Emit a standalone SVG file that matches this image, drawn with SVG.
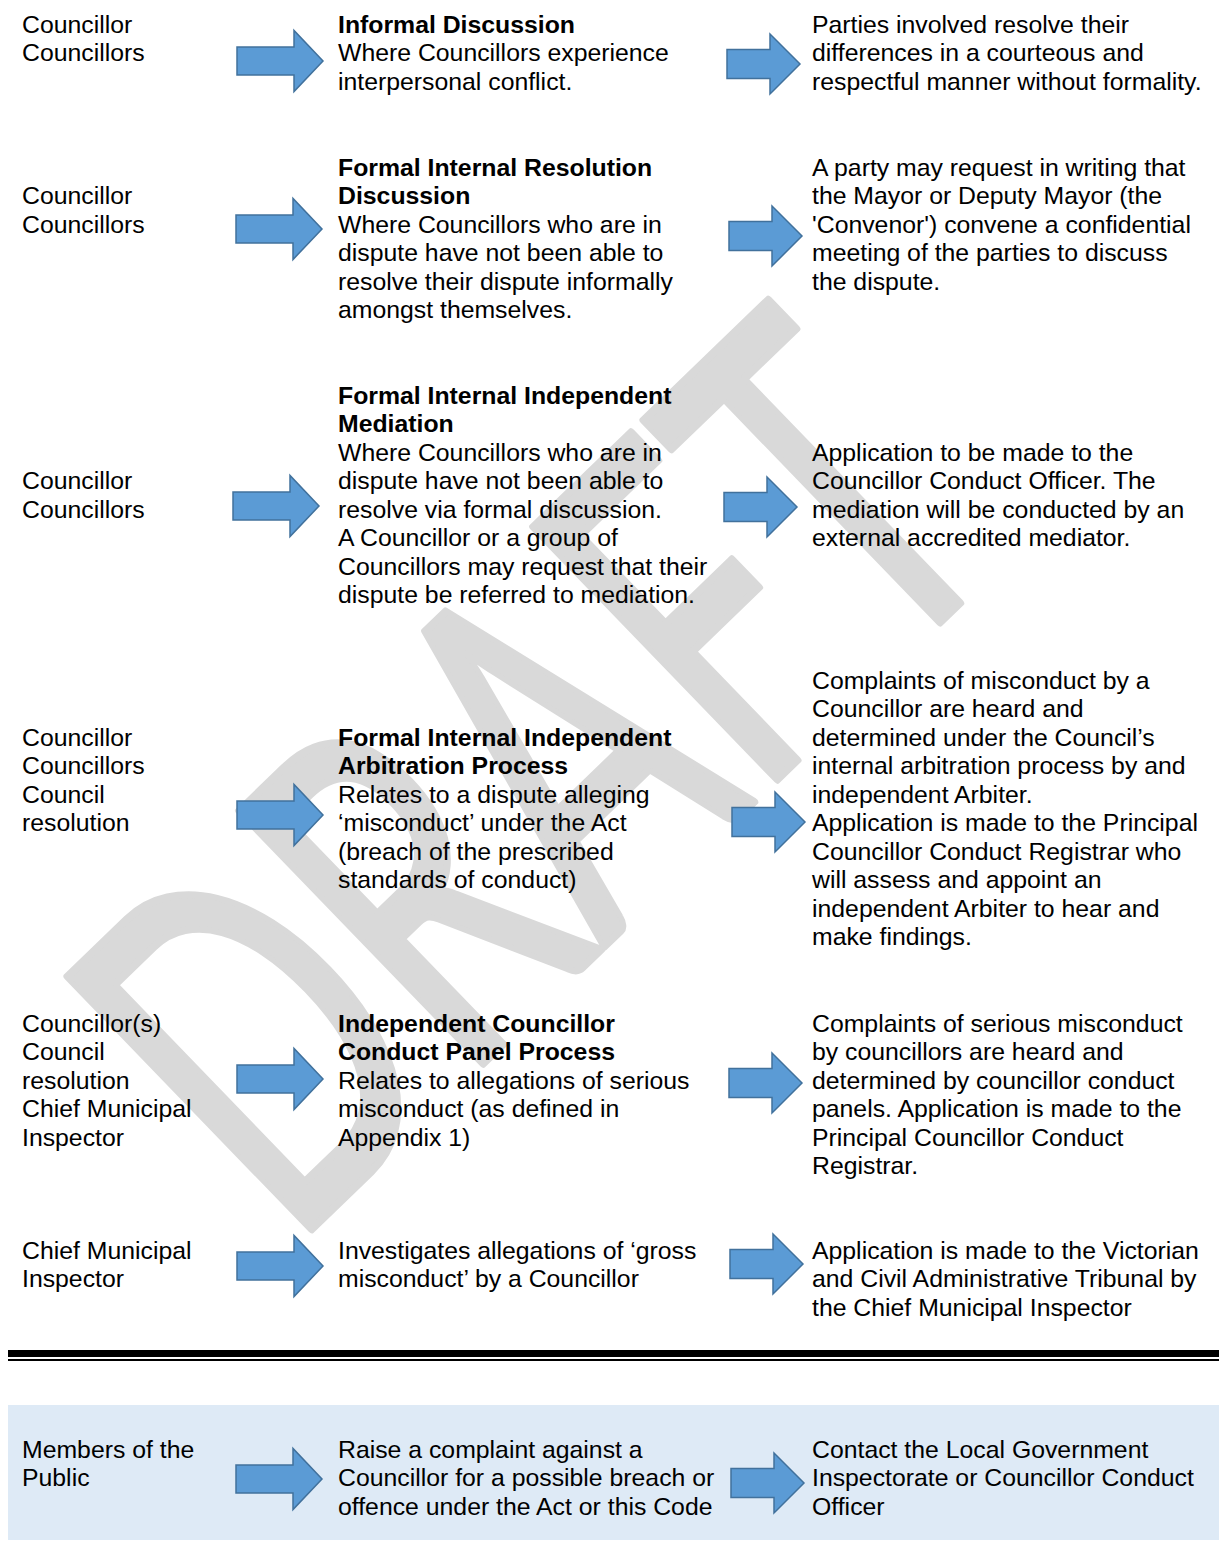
<svg xmlns="http://www.w3.org/2000/svg" width="1219" height="1541" viewBox="0 0 1219 1541">
<style>
  text { font-family: "Liberation Sans", Arial, sans-serif; font-size: 24.8px; fill: #000; }
  .b { font-weight: bold; }
  .wm { font-family: Lato, "Liberation Sans", sans-serif; font-size: 490px; fill: #d9d9d9; stroke: #d9d9d9; stroke-width: 8; stroke-linejoin: round; }
  .arrow { fill: #5b9bd5; stroke: #41719c; stroke-width: 1.5; stroke-linejoin: miter; }
</style>
<defs>
  <path id="arrL" d="M0,-14 H57 V-30.5 L86,0 L57,30.5 V14 H0 Z"/>
  <path id="arrR" d="M0,-14.5 H43 V-30 L73,0 L43,30 V14.5 H0 Z"/>
</defs>

<rect x="0" y="0" width="1219" height="1541" fill="#ffffff"/>

<g id="public-band">
  <rect x="8" y="1405" width="1211" height="135" fill="#deeaf6"/>
</g>

<g id="divider">
  <rect x="8" y="1350" width="1211" height="7" fill="#000"/>
  <rect x="8" y="1359" width="1211" height="2" fill="#000"/>
</g>

<g id="watermark">
  <text class="wm" x="0" y="0" textLength="1010" lengthAdjust="spacingAndGlyphs" transform="translate(290,1250) rotate(-44)">DRAFT</text>
</g>

<g id="connectors">
  <use href="#arrL" class="arrow" x="237" y="61"/>
  <use href="#arrR" class="arrow" x="727" y="64"/>
  <use href="#arrL" class="arrow" x="236" y="229"/>
  <use href="#arrR" class="arrow" x="729" y="236"/>
  <use href="#arrL" class="arrow" x="233" y="506"/>
  <use href="#arrR" class="arrow" x="724" y="507"/>
  <use href="#arrL" class="arrow" x="237" y="815"/>
  <use href="#arrR" class="arrow" x="732" y="822"/>
  <use href="#arrL" class="arrow" x="237" y="1079"/>
  <use href="#arrR" class="arrow" x="729" y="1083"/>
  <use href="#arrL" class="arrow" x="237" y="1266"/>
  <use href="#arrR" class="arrow" x="730" y="1264"/>
  <use href="#arrL" class="arrow" x="236" y="1479"/>
  <use href="#arrR" class="arrow" x="731" y="1483"/>
</g>

<!-- Row 1 -->
<g id="r1-who">
  <text x="22" y="32.5"><tspan x="22">Councillor</tspan><tspan x="22" dy="28.5">Councillors</tspan></text>
</g>
<g id="r1-process">
  <text x="338" y="32.5"><tspan x="338" class="b">Informal Discussion</tspan><tspan x="338" dy="28.5">Where Councillors experience</tspan><tspan x="338" dy="28.5">interpersonal conflict.</tspan></text>
</g>
<g id="r1-action">
  <text x="812" y="32.5"><tspan x="812">Parties involved resolve their</tspan><tspan x="812" dy="28.5">differences in a courteous and</tspan><tspan x="812" dy="28.5">respectful manner without formality.</tspan></text>
</g>

<!-- Row 2 -->
<g id="r2-who">
  <text x="22" y="204"><tspan x="22">Councillor</tspan><tspan x="22" dy="28.5">Councillors</tspan></text>
</g>
<g id="r2-process">
  <text x="338" y="175.5"><tspan x="338" class="b">Formal Internal Resolution</tspan><tspan x="338" dy="28.5" class="b">Discussion</tspan><tspan x="338" dy="28.5">Where Councillors who are in</tspan><tspan x="338" dy="28.5">dispute have not been able to</tspan><tspan x="338" dy="28.5">resolve their dispute informally</tspan><tspan x="338" dy="28.5">amongst themselves.</tspan></text>
</g>
<g id="r2-action">
  <text x="812" y="175.5"><tspan x="812">A party may request in writing that</tspan><tspan x="812" dy="28.5">the Mayor or Deputy Mayor (the</tspan><tspan x="812" dy="28.5">'Convenor') convene a confidential</tspan><tspan x="812" dy="28.5">meeting of the parties to discuss</tspan><tspan x="812" dy="28.5">the dispute.</tspan></text>
</g>

<!-- Row 3 -->
<g id="r3-who">
  <text x="22" y="489"><tspan x="22">Councillor</tspan><tspan x="22" dy="28.5">Councillors</tspan></text>
</g>
<g id="r3-process">
  <text x="338" y="403.5"><tspan x="338" class="b">Formal Internal Independent</tspan><tspan x="338" dy="28.5" class="b">Mediation</tspan><tspan x="338" dy="28.5">Where Councillors who are in</tspan><tspan x="338" dy="28.5">dispute have not been able to</tspan><tspan x="338" dy="28.5">resolve via formal discussion.</tspan><tspan x="338" dy="28.5">A Councillor or a group of</tspan><tspan x="338" dy="28.5">Councillors may request that their</tspan><tspan x="338" dy="28.5">dispute be referred to mediation.</tspan></text>
</g>
<g id="r3-action">
  <text x="812" y="460.5"><tspan x="812">Application to be made to the</tspan><tspan x="812" dy="28.5">Councillor Conduct Officer. The</tspan><tspan x="812" dy="28.5">mediation will be conducted by an</tspan><tspan x="812" dy="28.5">external accredited mediator.</tspan></text>
</g>

<!-- Row 4 -->
<g id="r4-who">
  <text x="22" y="745.5"><tspan x="22">Councillor</tspan><tspan x="22" dy="28.5">Councillors</tspan><tspan x="22" dy="28.5">Council</tspan><tspan x="22" dy="28.5">resolution</tspan></text>
</g>
<g id="r4-process">
  <text x="338" y="745.5"><tspan x="338" class="b">Formal Internal Independent</tspan><tspan x="338" dy="28.5" class="b">Arbitration Process</tspan><tspan x="338" dy="28.5">Relates to a dispute alleging</tspan><tspan x="338" dy="28.5">‘misconduct’ under the Act</tspan><tspan x="338" dy="28.5">(breach of the prescribed</tspan><tspan x="338" dy="28.5">standards of conduct)</tspan></text>
</g>
<g id="r4-action">
  <text x="812" y="688.5"><tspan x="812">Complaints of misconduct by a</tspan><tspan x="812" dy="28.5">Councillor are heard and</tspan><tspan x="812" dy="28.5">determined under the Council’s</tspan><tspan x="812" dy="28.5">internal arbitration process by and</tspan><tspan x="812" dy="28.5">independent Arbiter.</tspan><tspan x="812" dy="28.5">Application is made to the Principal</tspan><tspan x="812" dy="28.5">Councillor Conduct Registrar who</tspan><tspan x="812" dy="28.5">will assess and appoint an</tspan><tspan x="812" dy="28.5">independent Arbiter to hear and</tspan><tspan x="812" dy="28.5">make findings.</tspan></text>
</g>

<!-- Row 5 -->
<g id="r5-who">
  <text x="22" y="1031.5"><tspan x="22">Councillor(s)</tspan><tspan x="22" dy="28.5">Council</tspan><tspan x="22" dy="28.5">resolution</tspan><tspan x="22" dy="28.5">Chief Municipal</tspan><tspan x="22" dy="28.5">Inspector</tspan></text>
</g>
<g id="r5-process">
  <text x="338" y="1031.5"><tspan x="338" class="b">Independent Councillor</tspan><tspan x="338" dy="28.5" class="b">Conduct Panel Process</tspan><tspan x="338" dy="28.5">Relates to allegations of serious</tspan><tspan x="338" dy="28.5">misconduct (as defined in</tspan><tspan x="338" dy="28.5">Appendix 1)</tspan></text>
</g>
<g id="r5-action">
  <text x="812" y="1031.5"><tspan x="812">Complaints of serious misconduct</tspan><tspan x="812" dy="28.5">by councillors are heard and</tspan><tspan x="812" dy="28.5">determined by councillor conduct</tspan><tspan x="812" dy="28.5">panels. Application is made to the</tspan><tspan x="812" dy="28.5">Principal Councillor Conduct</tspan><tspan x="812" dy="28.5">Registrar.</tspan></text>
</g>

<!-- Row 6 -->
<g id="r6-who">
  <text x="22" y="1258.5"><tspan x="22">Chief Municipal</tspan><tspan x="22" dy="28.5">Inspector</tspan></text>
</g>
<g id="r6-process">
  <text x="338" y="1258.5"><tspan x="338">Investigates allegations of ‘gross</tspan><tspan x="338" dy="28.5">misconduct’ by a Councillor</tspan></text>
</g>
<g id="r6-action">
  <text x="812" y="1258.5"><tspan x="812">Application is made to the Victorian</tspan><tspan x="812" dy="28.5">and Civil Administrative Tribunal by</tspan><tspan x="812" dy="28.5">the Chief Municipal Inspector</tspan></text>
</g>

<!-- Public row -->
<g id="r7-who">
  <text x="22" y="1457.5"><tspan x="22">Members of the</tspan><tspan x="22" dy="28.5">Public</tspan></text>
</g>
<g id="r7-process">
  <text x="338" y="1457.5"><tspan x="338">Raise a complaint against a</tspan><tspan x="338" dy="28.5">Councillor for a possible breach or</tspan><tspan x="338" dy="28.5">offence under the Act or this Code</tspan></text>
</g>
<g id="r7-action">
  <text x="812" y="1457.5"><tspan x="812">Contact the Local Government</tspan><tspan x="812" dy="28.5">Inspectorate or Councillor Conduct</tspan><tspan x="812" dy="28.5">Officer</tspan></text>
</g>
</svg>
